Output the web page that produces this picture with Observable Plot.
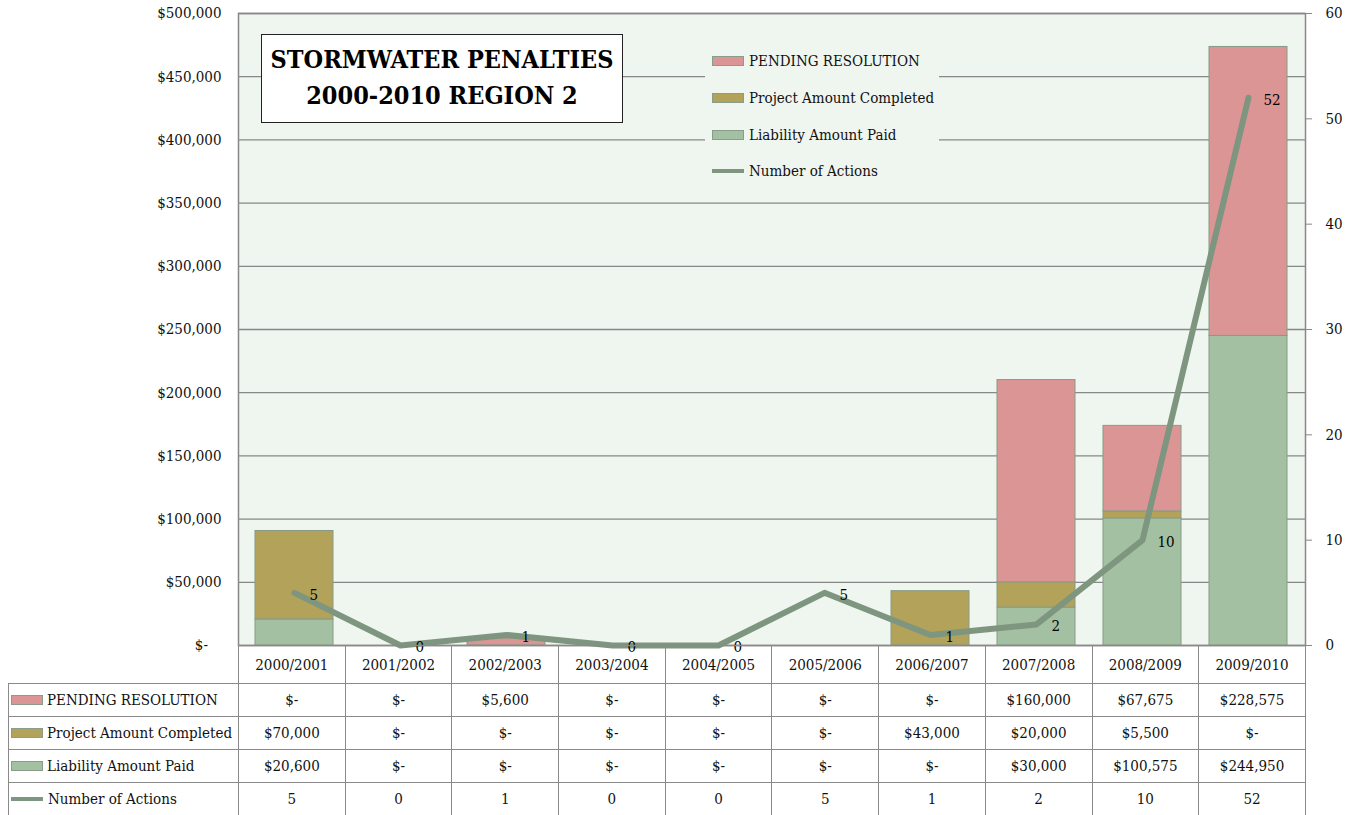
<!DOCTYPE html>
<html><head><meta charset="utf-8">
<script src="https://cdn.jsdelivr.net/npm/d3@7"></script>
<script src="https://cdn.jsdelivr.net/npm/@observablehq/plot@0.6"></script>
<style>
body{margin:0;background:#fff;font-family:"DejaVu Serif Condensed","DejaVu Serif",serif;}
#wrap{position:relative;width:1359px;height:815px;overflow:hidden;}
#chart{position:absolute;left:0;top:0;}
#title{position:absolute;left:261px;top:34px;width:362px;height:89px;box-sizing:border-box;background:#fff;border:1.5px solid #222;
  font-weight:bold;font-size:25px;line-height:36px;text-align:center;padding-top:7px;color:#000;}
#legend{position:absolute;left:705px;top:45px;width:234px;height:145px;background:#eff5ef;font-size:15px;color:#111;}
#legend .item{position:absolute;left:7px;height:20px;line-height:20px;white-space:nowrap;}
.sw{display:inline-block;width:30px;height:8px;border:1px solid #8a9c8a;vertical-align:middle;margin-right:5px;position:relative;top:-1px;}
.ln{display:inline-block;width:32px;height:4px;vertical-align:middle;margin-right:5px;position:relative;top:-1px;}
#tbl{position:absolute;left:8px;top:645px;border-collapse:collapse;table-layout:fixed;font-size:15px;color:#111;}
#tbl td{border:1.5px solid #8a8a8a;text-align:center;padding:0;white-space:nowrap;overflow:hidden;}
#tbl tr.head td{height:37px;}
#tbl tr.body td{height:32px;}
#tbl td.blank{border-top:none;border-left:none;}
#tbl td.lab{text-align:left;padding-left:2px;}
#tbl td.lab .sw{margin-right:4px;}
</style></head><body><div id="wrap"><div id="chart"></div></div>
<script>
const years = ["2000/2001","2001/2002","2002/2003","2003/2004","2004/2005","2005/2006","2006/2007","2007/2008","2008/2009","2009/2010"];
const pending = [0,0,5600,0,0,0,0,160000,67675,228575];
const project = [70000,0,0,0,0,0,43000,20000,5500,0];
const liability = [20600,0,0,0,0,0,0,30000,100575,244950];
const actions = [5,0,1,0,0,5,1,2,10,52];
const seriesNames = ["PENDING RESOLUTION","Project Amount Completed","Liability Amount Paid","Number of Actions"];
const seriesColors = ["#dc9595","#b2a25a","#a4c0a2","#7e957f"];
const leftTicks = d3.range(0, 500001, 50000);
const rightTicks = d3.range(0, 61, 10);
const Y_MAX = 500000, N_MAX = 60;

const stackOrder = [[seriesNames[2], liability],[seriesNames[1], project],[seriesNames[0], pending]];
const bars = [];
for (const [name, vals] of stackOrder) vals.forEach((v,i)=>{ if (v>0) bars.push({year:years[i], series:name, value:v}); });
const pts = years.map((y,i)=>({year:y, n:actions[i]}));
const money = v => v===0 ? "$-" : "$" + d3.format(",")(v);

const plot = Plot.plot({
  width:1359, height:663,
  marginLeft:238, marginRight:54, marginTop:13, marginBottom:18,
  style:{fontFamily:'"DejaVu Serif Condensed","DejaVu Serif",serif', fontSize:"15px", color:"#111", background:"transparent", overflow:"visible"},
  x:{domain:years, paddingInner:0.26, paddingOuter:0.13, axis:null},
  y:{domain:[0,Y_MAX], axis:null},
  color:{domain:seriesNames, range:seriesColors},
  marks:[
    Plot.frame({fill:"#eff5ef", stroke:"none"}),
    Plot.gridY(leftTicks, {stroke:"#888", strokeOpacity:1, strokeWidth:1.3}),
    Plot.barY(bars, Plot.stackY({x:"year", y:"value", fill:"series", stroke:"#869c86", strokeWidth:1})),
    Plot.line(pts, {x:"year", y:d=>d.n*Y_MAX/N_MAX, stroke:seriesColors[3], strokeWidth:6, strokeLinejoin:"round", strokeLinecap:"round"}),
    Plot.text(pts, {x:"year", y:d=>d.n*Y_MAX/N_MAX, text:d=>String(d.n), textAnchor:"start", dx:15, dy:2, fontSize:15, fill:"#000"}),
    Plot.frame({stroke:"#888", strokeWidth:1.5}),
    Plot.axisY(leftTicks, {anchor:"left", label:null, tickSize:0, tickPadding:17, tickFormat:d=> d===0 ? "$-\u2003" : "$"+d3.format(",")(d), fontSize:15}),
    Plot.axisY(rightTicks.map(t=>t*Y_MAX/N_MAX), {anchor:"right", label:null, tickSize:6, tickPadding:14, stroke:"#888", tickFormat:d=>String(Math.round(d*N_MAX/Y_MAX)), fontSize:15})
  ]
});
document.getElementById("chart").appendChild(plot);

const wrap = document.getElementById("wrap");
const title = document.createElement("div");
title.id = "title";
title.innerHTML = "STORMWATER PENALTIES<br>2000-2010 REGION 2";
wrap.appendChild(title);

const legend = document.createElement("div");
legend.id = "legend";
const legendTops = [6, 43, 80, 116];
seriesNames.forEach((s,i)=>{
  const it = document.createElement("div");
  it.className = "item";
  it.style.top = legendTops[i] + "px";
  const sw = i<3 ? `<span class="sw" style="background:${seriesColors[i]}"></span>` : `<span class="ln" style="background:${seriesColors[3]}"></span>`;
  it.innerHTML = sw + s;
  legend.appendChild(it);
});
wrap.appendChild(legend);

const tbl = document.createElement("table");
tbl.id = "tbl";
let html = `<colgroup><col style="width:230px">${years.map(()=>'<col style="width:106.7px">').join("")}</colgroup>`;
html += `<tr class="head"><td class="blank"></td>${years.map(y=>`<td>${y}</td>`).join("")}</tr>`;
const rows = [[seriesNames[0], pending, money],[seriesNames[1], project, money],[seriesNames[2], liability, money],[seriesNames[3], actions, v=>String(v)]];
rows.forEach(([name, vals, f], i)=>{
  const sw = i<3 ? `<span class="sw" style="background:${seriesColors[i]}"></span>` : `<span class="ln" style="background:${seriesColors[3]}"></span>`;
  html += `<tr class="body"><td class="lab">${sw}${name}</td>${vals.map(v=>`<td>${f(v)}</td>`).join("")}</tr>`;
});
tbl.innerHTML = html;
tbl.style.width = (230 + 10*106.7) + "px";
wrap.appendChild(tbl);
</script></body></html>
